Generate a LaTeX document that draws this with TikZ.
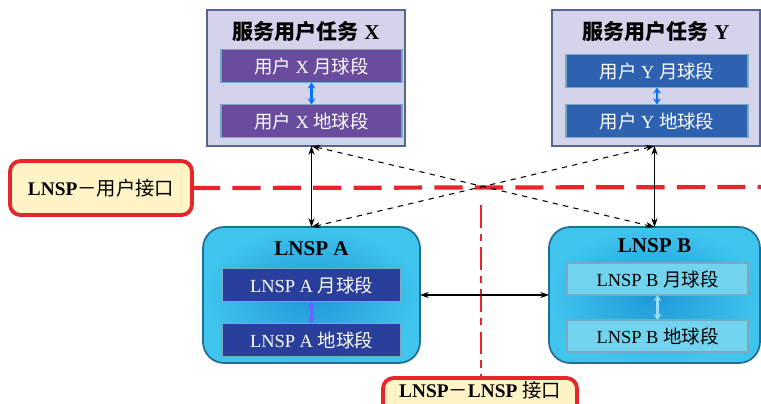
\documentclass[tikz,border=0pt]{standalone}
\usepackage{fontspec}
\setmainfont{Liberation Serif}
\newfontfamily\cjk{Noto Sans CJK SC}
\usetikzlibrary{arrows.meta}

\definecolor{lavender}{HTML}{D3D4EC}
\definecolor{slateline}{HTML}{56668F}
\definecolor{userpurple}{HTML}{6A4C9F}
\definecolor{userblue}{HTML}{2E62B0}
\definecolor{lnspcyan}{HTML}{3FC4EE}
\definecolor{lnspdeep}{HTML}{1E97D6}
\definecolor{lnspline}{HTML}{1F6F93}
\definecolor{segnavy}{HTML}{2A3E9C}
\definecolor{seglight}{HTML}{72D3EE}
\definecolor{ifred}{HTML}{E8252B}
\definecolor{ifyellow}{HTML}{FFF4C6}

\begin{document}
\begin{tikzpicture}[x=0.02cm, y=-0.02cm, >={Stealth[length=5pt,width=3.5pt]},
	box/.style={inner sep=0pt, outer sep=0pt, align=center},
	userbox/.style={box, draw=slateline, line width=1.2pt, fill=lavender, minimum height=2.72cm},
	lnspbox/.style={box, draw=lnspline, line width=1pt, rounded corners=12pt, minimum height=2.72cm,
		shading=radial, inner color=lnspdeep, outer color=lnspcyan},
	seg/.style={box, draw=lnspline!60, line width=0.8pt, minimum height=0.66cm, text=white,
		font=\fontsize{10.5}{12}\selectfont},
	head/.style={font=\fontsize{12}{14}\selectfont\bfseries},
	iface/.style={box, draw=ifred, line width=2.2pt, fill=ifyellow, rounded corners=6pt,
		font=\fontsize{11}{13}\selectfont},
	twin/.style={<->, line width=1.2pt, >={Stealth[length=3.5pt,width=4.5pt]}},
	link/.style={<->, line width=0.6pt, black}]
	\useasboundingbox (0,0) rectangle (761,403);
	
	% user tasks
	\node[userbox, minimum width=3.96cm] (xo) at (306,78) {};
	\node[head] (xt) at (306,32) {{\cjk 服务用户任务} X};
	\node[seg, fill=userpurple, minimum width=3.62cm] (xm) at (311.5,66) {{\cjk 用户} X {\cjk 月球段}};
	\node[seg, fill=userpurple, minimum width=3.62cm] (xe) at (311.5,121) {{\cjk 用户} X {\cjk 地球段}};
	
	\node[userbox, minimum width=4.16cm] (yo) at (656,78) {};
	\node[head] (yt) at (656,32) {{\cjk 服务用户任务} Y};
	\node[seg, fill=userblue, minimum width=3.64cm] (ym) at (657,71) {{\cjk 用户} Y {\cjk 月球段}};
	\node[seg, fill=userblue, minimum width=3.64cm] (ye) at (657,121) {{\cjk 用户} Y {\cjk 地球段}};
	
	% LNSP
	\node[lnspbox, minimum width=4.34cm] (ao) at (311.5,295) {};
	\node[head] (at) at (311.5,249) {LNSP A};
	\node[seg, fill=segnavy, minimum width=3.58cm] (am) at (311.5,285) {LNSP A {\cjk 月球段}};
	\node[seg, fill=segnavy, minimum width=3.58cm] (ae) at (311.5,340) {LNSP A {\cjk 地球段}};
	
	\node[lnspbox, minimum width=4.22cm] (bo) at (654.5,295) {};
	\node[head] (bt) at (654.5,246) {LNSP B};
	\node[seg, fill=seglight, text=black, minimum width=3.62cm, minimum height=0.64cm] (bm) at (657.5,279) {LNSP B {\cjk 月球段}};
	\node[seg, fill=seglight, text=black, minimum width=3.62cm, minimum height=0.64cm] (be) at (657.5,336) {LNSP B {\cjk 地球段}};
	
	% interfaces
	\node[iface, minimum width=3.64cm, minimum height=1.08cm] (uif) at (101,188) {\textbf{LNSP}{\cjk －用户接口}};
	\node[iface, minimum width=3.88cm, minimum height=0.76cm, anchor=north, text height=8pt, text depth=8pt] (lif) at (480,378)
		{\textbf{LNSP}{\cjk －}\textbf{LNSP} {\cjk 接口}};
	\coordinate (uend) at (761,187);
	\coordinate (ltop) at (481,205);
	\draw[ifred, line width=2.4pt, dash pattern=on 16pt off 7pt] (uif.east) -- (uend);
	\draw[ifred, line width=1.3pt, dash pattern=on 13pt off 3.5pt on 4pt off 3.5pt] (ltop) -- (ltop |- lif.north);
	
	% links
	\draw[twin, draw=blue!55!cyan] (xm) -- (xe);
	\draw[twin, draw=blue!55!cyan] (ym) -- (ye);
	\draw[twin, draw=blue!60] (am) -- (ae);
	\draw[twin, draw=cyan!40] (bm) -- (be);
	
	\draw[link] (ao.north |- xo.south) -- (ao.north);
	\draw[link] (bo.north |- yo.south) -- (bo.north);
	\draw[link, dashed] (ao.north |- xo.south) -- (bo.north);
	\draw[link, dashed] (bo.north |- yo.south) -- (ao.north);
	\draw[link] (ao.east) -- (bo.west);
\end{tikzpicture}
\end{document}
